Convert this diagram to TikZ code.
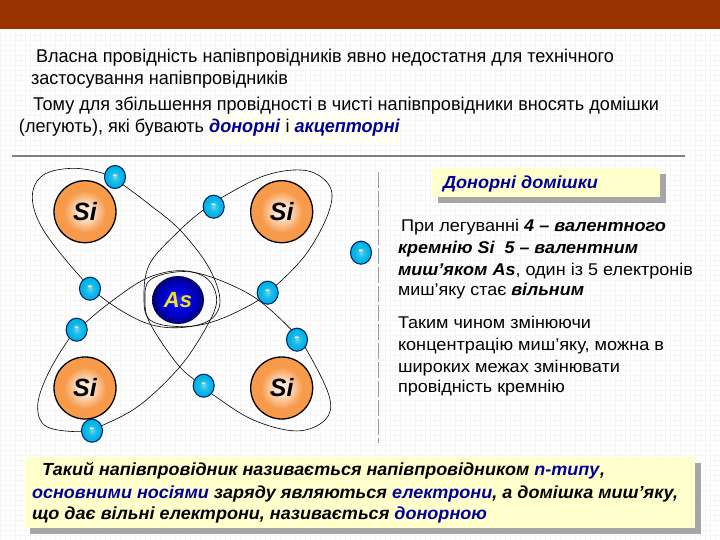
\documentclass[tikz,border=0pt]{standalone}
\usepackage{fontspec}
\setmainfont{Liberation Sans}
\usetikzlibrary{shapes.geometric,shadings}
\definecolor{headbar}{HTML}{993300}
\definecolor{softgrid}{HTML}{F6F6F6}
\definecolor{rulegray}{HTML}{808080}
\definecolor{noteyellow}{HTML}{FFFFCC}
\definecolor{shadowgray}{HTML}{A6A6A6}
\definecolor{deepblue}{HTML}{000099}
\definecolor{cyanball}{HTML}{00B4E6}
\definecolor{orangeball}{HTML}{F79A4A}
\pgfdeclareradialshading{siball}{\pgfpoint{0bp}{0bp}}{color(0bp)=(white!85!orangeball); color(6bp)=(white!70!orangeball); color(17bp)=(orangeball); color(50bp)=(orangeball)}
\pgfdeclareradialshading{eball}{\pgfpoint{0bp}{0bp}}{color(0bp)=(cyanball!55!white); color(8bp)=(cyanball!85!white); color(18bp)=(cyanball); color(50bp)=(cyanball)}
\pgfdeclareradialshading{asball}{\pgfpoint{0bp}{0bp}}{color(0bp)=(blue!85!white); color(10bp)=(blue!90!black); color(19bp)=(blue!70!black); color(25bp)=(blue!40!black); color(50bp)=(blue!40!black)}
\newcommand{\bi}[1]{\textbf{\textit{#1}}}
\newcommand{\hl}[1]{\textcolor{deepblue}{\bi{#1}}}
\newcommand{\fitw}[2]{\resizebox{#1pt}{\height}{#2}}
\tikzset{
  textline/.style={anchor=base west,inner sep=0pt,outer sep=0pt},
  siatom/.style={circle,draw=black,line width=1.3pt,minimum size=62pt,inner sep=0pt,shading=siball,font=\bfseries\itshape\fontsize{25}{25}\selectfont},
  asatom/.style={ellipse,draw=none,minimum width=52pt,minimum height=48pt,inner sep=0pt,shading=asball,text=yellow!85!gray,font=\bfseries\itshape\fontsize{22}{22}\selectfont},
  electron/.style={ellipse,draw=black!70!blue!80!cyanball,line width=1.1pt,minimum width=21pt,minimum height=23pt,inner sep=0pt,shading=eball,text=white,font=\bfseries\fontsize{14}{14}\selectfont},
  orbit/.style={black,line width=0.6pt},
  notebox/.style={fill=noteyellow,draw=none},
  shadowbox/.style={fill=shadowgray,draw=none}
}
\begin{document}
\begin{tikzpicture}[x=1pt,y=-1pt]
\useasboundingbox (0,0) rectangle (720,540);
\fill[white] (0,0) rectangle (720,540);
\draw[softgrid,line width=0.5pt] (0,29) grid[step=5pt] (720,540);
\fill[headbar] (0,0) rectangle (720,29);

% top text
\fill[noteyellow!25!white] (208,113) rectangle (400,143);
\node[textline] (t1) at (36,63) {\fontsize{18.5}{20}\selectfont\fitw{578}{Власна провідність напівпровідників явно недостатня для технічного}};
\node[textline] (t2) at (31,85) {\fontsize{18.5}{20}\selectfont\fitw{257}{застосування напівпровідників}};
\node[textline] (t3) at (33,111) {\fontsize{18.5}{20}\selectfont\fitw{626}{Тому для збільшення провідності в чисті напівпровідники вносять домішки}};
\node[textline] (t4) at (19,133) {\fontsize{18.5}{20}\selectfont\fitw{381}{(легують), які бувають \hl{донорні} і \hl{акцепторні}}};
\draw[rulegray,line width=2pt] (12,156) -- (685,156);

% orbits, in 3x zoom coordinates
\begin{scope}[x=0.3333pt,y=-0.3333pt,shift={(0,450)}]
\draw[orbit] plot[smooth cycle,tension=0.6] coordinates {(315,72)(220,55)(130,75)(97,140)(130,240)(245,385)(330,460)(440,520)(540,533)(630,510)(660,450)(625,350)(540,240)(450,165)(370,105)};
\draw[orbit] plot[smooth cycle,tension=0.6] coordinates {(670,140)(800,75)(920,62)(990,110)(985,190)(920,310)(830,405)(760,460)(640,515)(540,530)(450,510)(432,440)(450,340)(540,240)(610,180)};
\draw[orbit] plot[smooth cycle,tension=0.6] coordinates {(205,570)(140,680)(113,770)(140,830)(245,845)(310,825)(420,765)(540,650)(620,530)(650,450)(620,385)(540,362)(440,385)(340,450)(260,515)};
\draw[orbit] plot[smooth cycle,tension=0.6] coordinates {(640,735)(760,810)(890,843)(975,810)(988,740)(920,600)(870,535)(760,440)(630,380)(540,365)(450,390)(435,450)(450,520)(530,640)(590,695)};
\end{scope}

\node[siatom] (si1) at (85,211.7) {Si};
\node[siatom] (si2) at (281.7,211.7) {Si};
\node[siatom] (si3) at (85,388) {Si};
\node[siatom] (si4) at (281.7,388) {Si};
\node[asatom] (as) at (178,300) {As};

\node[electron] (e1) at (115,177) {-};
\node[electron] (e2) at (213.7,206.7) {-};
\node[electron] (e3) at (361,252.7) {-};
\node[electron] (e4) at (90,288.7) {-};
\node[electron] (e5) at (267.7,292.7) {-};
\node[electron] (e6) at (76.7,329.7) {-};
\node[electron] (e7) at (297,339.7) {-};
\node[electron] (e8) at (203.7,385.7) {-};
\node[electron] (e9) at (92,430.7) {-};

\draw[rulegray!80,line width=0.7pt,dash pattern=on 16pt off 3pt] (378.5,172) -- (378.5,443);

% label box
\fill[shadowbox] (438,174) rectangle (666,203);
\fill[notebox] (432,168) rectangle (660,197);
\node[textline] (lab) at (443,189) {\fontsize{17.5}{18}\selectfont\fitw{155}{\hl{Донорні домішки}}};

% right text
\node[textline] (r1) at (401,232) {\fontsize{17}{20}\selectfont\fitw{265}{При легуванні \bi{4 – валентного}}};
\node[textline] (r2) at (398,253) {\fontsize{17}{20}\selectfont\fitw{240}{\bi{кремнію Si\ \ 5 – валентним}}};
\node[textline] (r3) at (398,275) {\fontsize{17}{20}\selectfont\fitw{295}{\bi{миш’яком As}, один із 5 електронів}};
\node[textline] (r4) at (398,295) {\fontsize{17}{20}\selectfont\fitw{186}{миш’яку стає \bi{вільним}}};
\node[textline] (r5) at (398,328) {\fontsize{17}{20}\selectfont\fitw{193}{Таким чином змінюючи}};
\node[textline] (r6) at (398,350) {\fontsize{17}{20}\selectfont\fitw{266}{концентрацію миш’яку, можна в}};
\node[textline] (r7) at (398,372) {\fontsize{17}{20}\selectfont\fitw{222}{широких межах змінювати}};
\node[textline] (r8) at (398,392) {\fontsize{17}{20}\selectfont\fitw{167}{провідність кремнію}};

% bottom box
\fill[shadowbox] (30,463) rectangle (701,534);
\fill[notebox] (25,457) rectangle (695,528);
\node[textline] (b1) at (42,475) {\fontsize{17.5}{20}\selectfont\fitw{563}{\bi{Такий напівпровідник називається напівпровідником} \hl{n-типу}\bi{,}}};
\node[textline] (b2) at (32,498) {\fontsize{17.5}{20}\selectfont\fitw{646}{\hl{основними носіями} \bi{заряду являються} \hl{електрони}\bi{, а домішка миш’яку,}}};
\node[textline] (b3) at (32,519) {\fontsize{17.5}{20}\selectfont\fitw{455}{\bi{що дає вільні електрони, називається} \hl{донорною}}};
\end{tikzpicture}
\end{document}
